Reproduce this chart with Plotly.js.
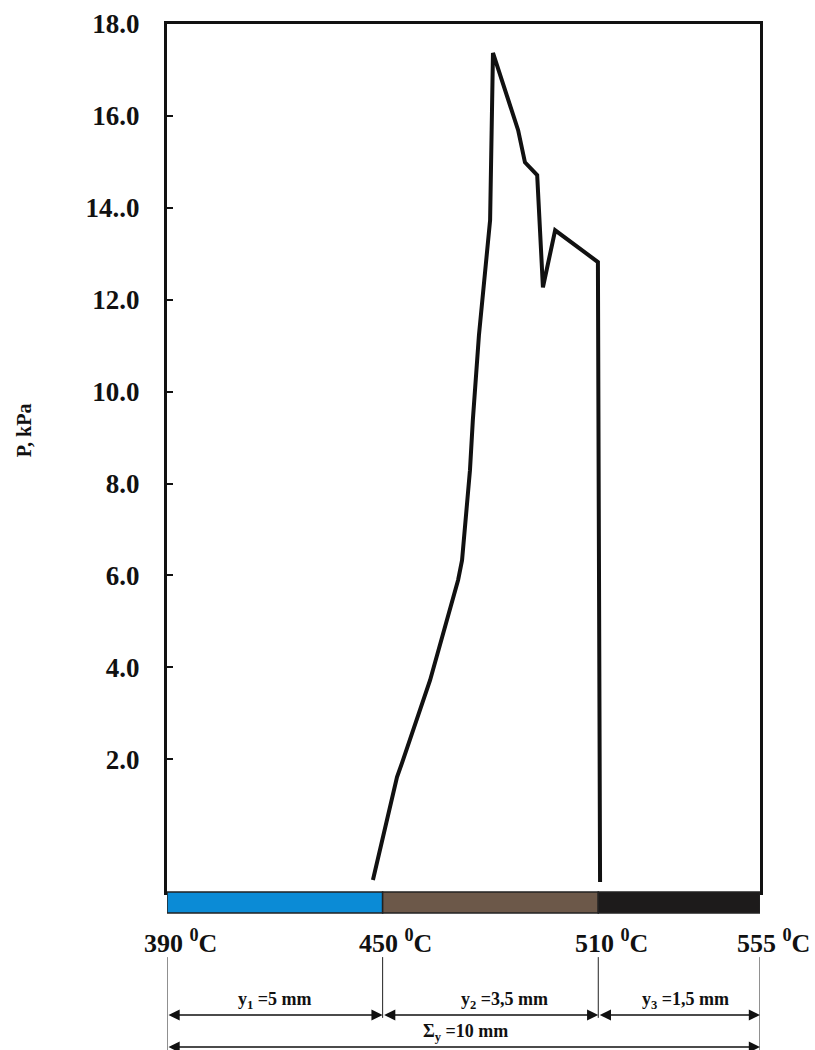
<!DOCTYPE html>
<html>
<head>
<meta charset="utf-8">
<script src="https://cdn.plot.ly/plotly-3.0.1.min.js"></script>
<style>html,body{margin:0;padding:0;background:#fff;}#chart{width:815px;height:1050px;}</style>
</head>
<body>
<div id="chart"></div>
<script>
// ---- data ----
const temperature = [447.3, 454.0, 455.4, 463.2, 471.0, 472.1, 474.3, 475.1, 476.8, 479.3, 479.9, 480.7, 487.7, 489.6, 493.0, 494.6, 498.0, 509.9, 510.5];
const pressure    = [-0.63, 1.61, 1.92, 3.72, 5.90, 6.33, 8.29, 9.38, 11.23, 13.41, 13.73, 17.37, 15.69, 14.99, 14.71, 12.27, 13.51, 12.82, -0.67];

const yTickVals = [2, 4, 6, 8, 10, 12, 14, 16, 18];
const yTickText = ["2.0", "4.0", "6.0", "8.0", "10.0", "12.0", "14..0", "16.0", "18.0"];

const zoneBounds = [390, 450, 510, 555];
const zoneColors = ["#0b8bd6", "#6c5849", "#1d1b1b"];
const boundLabels = ["390 <sup>0</sup>C", "450 <sup>0</sup>C", "510 <sup>0</sup>C", "555 <sup>0</sup>C"];
const zoneThickness = ["y<sub>1</sub> =5 mm", "y<sub>2</sub> =3,5 mm", "y<sub>3</sub> =1,5 mm"];
const totalLabel = "\u03A3<sub>y</sub> =10 mm";

// ---- layout helpers ----
const serif = "Liberation Serif, Times New Roman, serif";
const labelShift = [0, 14, 6];
const shapes = [];
const annotations = [];

// coloured zone bar under the plot
for (let i = 0; i < zoneColors.length; i++) {
  shapes.push({type: "rect", xref: "x", yref: "paper",
    x0: zoneBounds[i], x1: zoneBounds[i + 1], y0: 0, y1: -0.0242,
    fillcolor: zoneColors[i], line: {color: "#222", width: 1.5}, layer: "above"});
}
// temperature labels and extension lines
for (let i = 0; i < zoneBounds.length; i++) {
  annotations.push({xref: "x", yref: "paper", x: zoneBounds[i], y: -0.0576,
    text: "<b>" + boundLabels[i] + "</b>", showarrow: false, xanchor: "center", yanchor: "middle",
    xshift: 13, font: {family: serif, size: 26, color: "#111"}});
  const outer = (i === 0 || i === zoneBounds.length - 1);
  shapes.push({type: "line", xref: "x", yref: "paper",
    x0: zoneBounds[i], x1: zoneBounds[i], y0: -0.075, y1: outer ? -0.184 : -0.145,
    line: {color: "#222", width: 1}});
}
// dimension lines for zone thicknesses
for (let i = 0; i < zoneThickness.length; i++) {
  annotations.push({xref: "x", yref: "paper", axref: "x", ayref: "pixel",
    x: zoneBounds[i + 1], y: -0.1417, ax: zoneBounds[i], ay: 0,
    showarrow: true, arrowside: "end+start", arrowhead: 2, arrowsize: 1.4, arrowwidth: 1.6,
    arrowcolor: "#111", text: ""});
  annotations.push({xref: "x", yref: "paper",
    x: (zoneBounds[i] + zoneBounds[i + 1]) / 2, y: -0.1405, xshift: labelShift[i],
    text: "<b>" + zoneThickness[i] + "</b>", showarrow: false, xanchor: "center", yanchor: "bottom",
    font: {family: serif, size: 18, color: "#111"}});
}
// total thickness line
annotations.push({xref: "x", yref: "paper", axref: "x", ayref: "pixel",
  x: zoneBounds[zoneBounds.length - 1], y: -0.1786, ax: zoneBounds[0], ay: 0,
  showarrow: true, arrowside: "end+start", arrowhead: 2, arrowsize: 1.4, arrowwidth: 1.6,
  arrowcolor: "#111", text: ""});
annotations.push({xref: "x", yref: "paper", x: 473, y: -0.1624,
  text: "<b>" + totalLabel + "</b>", showarrow: false, xanchor: "center", yanchor: "middle",
  font: {family: serif, size: 18, color: "#111"}});
// y axis title
annotations.push({xref: "paper", yref: "paper", x: -0.241, y: 0.532,
  text: "<b>P, kPa</b>", textangle: -90, showarrow: false, xanchor: "center", yanchor: "middle",
  font: {family: serif, size: 20, color: "#111"}});

const trace = {
  x: temperature, y: pressure, type: "scatter", mode: "lines",
  line: {color: "#111", width: 4}, cliponaxis: false, hoverinfo: "skip"
};

const layout = {
  width: 815, height: 1050,
  margin: {l: 167, r: 55, t: 24, b: 158},
  paper_bgcolor: "#fff", plot_bgcolor: "#fff",
  showlegend: false,
  xaxis: {range: [390, 555], showgrid: false, zeroline: false, showticklabels: false, ticks: "",
    showline: true, linecolor: "#111", linewidth: 3, mirror: true, fixedrange: true},
  yaxis: {range: [-0.89, 18], showgrid: false, zeroline: false,
    tickvals: yTickVals, ticktext: yTickText, ticks: "inside", ticklen: 6, tickwidth: 2, tickcolor: "#111",
    ticklabelstandoff: 19,
    tickfont: {family: serif, size: 27, color: "#111", weight: "bold"},
    showline: true, linecolor: "#111", linewidth: 3, mirror: true, fixedrange: true},
  shapes: shapes,
  annotations: annotations
};

Plotly.newPlot("chart", [trace], layout, {staticPlot: true});
</script>
</body>
</html>
